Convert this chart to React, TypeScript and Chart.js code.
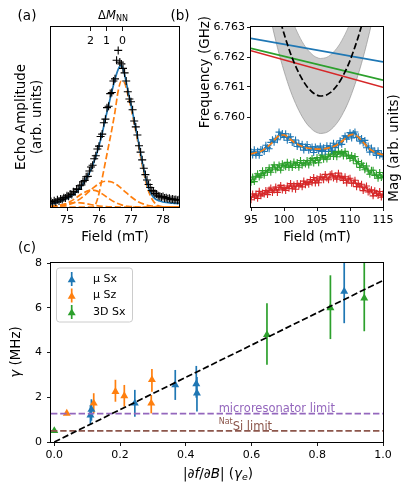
import React, { useEffect, useRef } from "react";
import { Chart, registerables } from "chart.js";
Chart.register(...registerables);

const FONT = '"DejaVu Sans", "Liberation Sans", sans-serif';
const C_BLUE = "#1f77b4";
const C_ORANGE = "#ff7f0e";
const C_GREEN = "#2ca02c";
const C_RED = "#d62728";
const C_PURPLE = "#9467bd";
const C_BROWN = "#8c564b";

// ---------------- Panel (a) ----------------
const A_X_TICKS = [75, 76, 77, 78];
const A_TOP_POS = [75.72, 76.22, 76.72];
const A_TOP_LABELS = ["2", "1", "0"];

const A_DATA_X = [
  74.5, 74.55, 74.6, 74.65, 74.7, 74.75, 74.8, 74.85, 74.9, 74.95,
  75.0, 75.05, 75.1, 75.15, 75.2, 75.25, 75.3, 75.35, 75.4, 75.45,
  75.5, 75.55, 75.6, 75.65, 75.7, 75.75, 75.8, 75.85, 75.9, 75.95,
  76.0, 76.05, 76.1, 76.15, 76.2, 76.25, 76.3, 76.35, 76.4, 76.45,
  76.5, 76.55, 76.6, 76.65, 76.7, 76.75, 76.8, 76.85, 76.9, 76.95,
  77.0, 77.05, 77.1, 77.15, 77.2, 77.25, 77.3, 77.35, 77.4, 77.45,
  77.5, 77.55, 77.6, 77.65, 77.7, 77.75, 77.8, 77.85, 77.9, 77.95,
  78.0, 78.05, 78.1, 78.15, 78.2, 78.25, 78.3, 78.35, 78.4, 78.45,
  78.5,
];
const A_DATA_Y = [
  0.030, 0.022, 0.035, 0.028, 0.040, 0.033, 0.045, 0.041, 0.052, 0.050,
  0.062, 0.060, 0.072, 0.070, 0.085, 0.083, 0.100, 0.098, 0.118, 0.122,
  0.140, 0.147, 0.168, 0.170, 0.200, 0.222, 0.232, 0.268, 0.285, 0.322,
  0.338, 0.392, 0.405, 0.468, 0.488, 0.552, 0.560, 0.630, 0.636, 0.700,
  0.712, 0.815, 0.870, 0.805, 0.795, 0.770, 0.745, 0.700, 0.640, 0.600,
  0.585, 0.540, 0.478, 0.445, 0.400, 0.340, 0.305, 0.262, 0.215, 0.180,
  0.150, 0.125, 0.108, 0.092, 0.085, 0.075, 0.072, 0.062, 0.060, 0.055,
  0.058, 0.050, 0.052, 0.046, 0.048, 0.042, 0.045, 0.040, 0.042, 0.038,
  0.040,
];

const A_FIT_X = [
  74.5, 74.6, 74.7, 74.8, 74.9, 75.0, 75.1, 75.2, 75.3, 75.4,
  75.5, 75.6, 75.7, 75.8, 75.9, 76.0, 76.1, 76.2, 76.3, 76.4,
  76.5, 76.6, 76.7, 76.8, 76.9, 77.0, 77.1, 77.2, 77.3, 77.4,
  77.5, 77.6, 77.7, 77.8, 77.9, 78.0, 78.1, 78.2, 78.3, 78.4,
  78.5,
];
const A_FIT_Y = [
  0.018, 0.021, 0.026, 0.032, 0.040, 0.048, 0.058, 0.070, 0.085, 0.105,
  0.128, 0.157, 0.190, 0.230, 0.280, 0.340, 0.410, 0.490, 0.565, 0.640,
  0.710, 0.765, 0.788, 0.735, 0.650, 0.568, 0.482, 0.392, 0.298, 0.208,
  0.132, 0.082, 0.055, 0.040, 0.033, 0.028, 0.025, 0.023, 0.021, 0.020,
  0.020,
];

// ΔM = 0 component
const A_C0_X = [74.5, 75.5, 75.8, 75.9, 76.0, 76.1, 76.2, 76.3, 76.4, 76.5, 76.6, 76.7, 76.8, 76.9, 77.0, 77.1, 77.2, 77.3, 77.4, 77.5, 77.6, 77.7, 77.8, 77.9, 78.0, 78.5];
const A_C0_Y = [0, 0, 0.0, 0.018, 0.075, 0.16, 0.25, 0.34, 0.43, 0.53, 0.645, 0.70, 0.69, 0.625, 0.55, 0.465, 0.375, 0.28, 0.19, 0.115, 0.065, 0.032, 0.013, 0.004, 0.001, 0];
// ΔM = 1 component
const A_C1_X = [74.5, 74.8, 75.0, 75.2, 75.4, 75.6, 75.8, 76.0, 76.2, 76.4, 76.6, 76.8, 77.0, 77.2, 77.4, 77.6, 77.8, 78.0, 78.5];
const A_C1_Y = [0.001, 0.0045, 0.011, 0.023, 0.044, 0.072, 0.103, 0.130, 0.143, 0.139, 0.118, 0.087, 0.057, 0.032, 0.016, 0.007, 0.003, 0.001, 0];
// ΔM = 2 component
const A_C2_X = [74.5, 74.7, 74.9, 75.1, 75.3, 75.5, 75.7, 75.8, 75.9, 76.1, 76.3, 76.5, 76.7, 76.9, 77.1, 77.3, 78.5];
const A_C2_Y = [0.0016, 0.005, 0.014, 0.030, 0.053, 0.077, 0.0925, 0.094, 0.091, 0.073, 0.048, 0.026, 0.0116, 0.004, 0.0013, 0, 0];
// ΔM = 3 component
const A_C3_X = [74.5, 74.7, 74.9, 75.1, 75.3, 75.5, 75.7, 75.9, 76.1, 76.3, 76.5, 76.7, 78.5];
const A_C3_Y = [0.0034, 0.008, 0.015, 0.022, 0.025, 0.022, 0.015, 0.008, 0.0034, 0.0011, 0.0003, 0, 0];

// ---------------- Panel (b) ----------------
const B_X_TICKS = [95, 100, 105, 110, 115];
const B_Y_TICKS = [6.76, 6.761, 6.762, 6.763];

const B_LINE_X = [95, 115];
const B_LINE_BLUE = [6.76262, 6.76184];
const B_LINE_GREEN = [6.76229, 6.76123];
const B_LINE_RED = [6.76221, 6.76099];

const B_PARA_X = [97, 97.5, 98, 98.5, 99, 99.5, 100, 100.5, 101, 101.5, 102, 102.5, 103, 103.5, 104, 104.5, 105, 105.5, 106, 106.5, 107, 107.5, 108, 108.5, 109, 109.5, 110, 110.5, 111, 111.5, 112, 112.5, 113, 113.5, 114, 114.5];
const B_PARA_C = [6.76554, 6.765, 6.7645, 6.76402, 6.76357, 6.76316, 6.76278, 6.76243, 6.76211, 6.76183, 6.76158, 6.76136, 6.76117, 6.76101, 6.76089, 6.76079, 6.76073, 6.7607, 6.76071, 6.76074, 6.76081, 6.76091, 6.76104, 6.7612, 6.7614, 6.76162, 6.76188, 6.76218, 6.7625, 6.76285, 6.76324, 6.76366, 6.76411, 6.76459, 6.76511, 6.76566];
const B_BAND_UP = [6.76679, 6.76625, 6.76575, 6.76527, 6.76482, 6.76441, 6.76403, 6.76368, 6.76336, 6.76308, 6.76283, 6.76261, 6.76242, 6.76226, 6.76214, 6.76204, 6.76198, 6.76195, 6.76196, 6.76199, 6.76206, 6.76216, 6.76229, 6.76245, 6.76265, 6.76287, 6.76313, 6.76343, 6.76375, 6.7641, 6.76449, 6.76491, 6.76536, 6.76584, 6.76636, 6.76691];
const B_BAND_LO = [6.76429, 6.76375, 6.76325, 6.76277, 6.76232, 6.76191, 6.76153, 6.76118, 6.76086, 6.76058, 6.76033, 6.76011, 6.75992, 6.75976, 6.75964, 6.75954, 6.75948, 6.75945, 6.75946, 6.75949, 6.75956, 6.75966, 6.75979, 6.75995, 6.76015, 6.76037, 6.76063, 6.76093, 6.76125, 6.7616, 6.76199, 6.76241, 6.76286, 6.76334, 6.76386, 6.76441];

const B_TRACE_X = [
  95, 95.25, 95.5, 95.75, 96, 96.25, 96.5, 96.75, 97, 97.25,
  97.5, 97.75, 98, 98.25, 98.5, 98.75, 99, 99.25, 99.5, 99.75,
  100, 100.25, 100.5, 100.75, 101, 101.25, 101.5, 101.75, 102, 102.25,
  102.5, 102.75, 103, 103.25, 103.5, 103.75, 104, 104.25, 104.5, 104.75,
  105, 105.25, 105.5, 105.75, 106, 106.25, 106.5, 106.75, 107, 107.25,
  107.5, 107.75, 108, 108.25, 108.5, 108.75, 109, 109.25, 109.5, 109.75,
  110, 110.25, 110.5, 110.75, 111, 111.25, 111.5, 111.75, 112, 112.25,
  112.5, 112.75, 113, 113.25, 113.5, 113.75, 114, 114.25, 114.5, 114.75,
  115,
];
const B_BLUE = [
  0.307, 0.289, 0.318, 0.287, 0.310, 0.287, 0.320, 0.318, 0.308, 0.343,
  0.329, 0.324, 0.359, 0.374, 0.360, 0.382, 0.374, 0.416, 0.396, 0.408,
  0.387, 0.407, 0.371, 0.389, 0.390, 0.358, 0.357, 0.372, 0.336, 0.353,
  0.333, 0.349, 0.316, 0.334, 0.347, 0.315, 0.323, 0.334, 0.303, 0.334,
  0.323, 0.314, 0.338, 0.309, 0.329, 0.309, 0.340, 0.323, 0.339, 0.315,
  0.354, 0.330, 0.348, 0.345, 0.368, 0.348, 0.379, 0.395, 0.376, 0.394,
  0.413, 0.384, 0.409, 0.417, 0.386, 0.390, 0.366, 0.380, 0.356, 0.370,
  0.329, 0.339, 0.305, 0.328, 0.307, 0.311, 0.287, 0.313, 0.288, 0.296,
  0.280,
];
const B_GREEN = [
  0.137, 0.166, 0.141, 0.171, 0.185, 0.166, 0.177, 0.202, 0.176, 0.203,
  0.193, 0.218, 0.193, 0.217, 0.234, 0.207, 0.218, 0.233, 0.205, 0.240,
  0.231, 0.223, 0.248, 0.220, 0.240, 0.220, 0.250, 0.232, 0.247, 0.221,
  0.258, 0.232, 0.246, 0.239, 0.258, 0.234, 0.259, 0.270, 0.245, 0.259,
  0.275, 0.246, 0.273, 0.288, 0.265, 0.279, 0.266, 0.293, 0.282, 0.309,
  0.281, 0.302, 0.279, 0.309, 0.295, 0.303, 0.283, 0.309, 0.283, 0.289,
  0.270, 0.286, 0.260, 0.280, 0.240, 0.253, 0.220, 0.243, 0.229, 0.207,
  0.228, 0.200, 0.182, 0.204, 0.204, 0.175, 0.182, 0.160, 0.192, 0.164,
  0.172,
];
const B_RED = [
  0.040, 0.072, 0.055, 0.072, 0.048, 0.087, 0.062, 0.078, 0.072, 0.092,
  0.069, 0.094, 0.105, 0.081, 0.094, 0.111, 0.081, 0.107, 0.120, 0.095,
  0.107, 0.092, 0.117, 0.104, 0.130, 0.101, 0.122, 0.099, 0.130, 0.117,
  0.129, 0.112, 0.144, 0.124, 0.138, 0.127, 0.152, 0.135, 0.164, 0.134,
  0.157, 0.135, 0.168, 0.163, 0.151, 0.181, 0.161, 0.151, 0.179, 0.185,
  0.161, 0.173, 0.154, 0.188, 0.162, 0.170, 0.147, 0.168, 0.134, 0.155,
  0.160, 0.132, 0.133, 0.149, 0.113, 0.131, 0.111, 0.126, 0.091, 0.107,
  0.117, 0.083, 0.088, 0.096, 0.062, 0.090, 0.076, 0.064, 0.086, 0.055,
  0.072,
];
const B_FIT_X = [
  95, 95.5, 96, 96.5, 97, 97.5, 98, 98.5, 99, 99.5,
  100, 100.5, 101, 101.5, 102, 102.5, 103, 103.5, 104, 104.5,
  105, 105.5, 106, 106.5, 107, 107.5, 108, 108.5, 109, 109.5,
  110, 110.5, 111, 111.5, 112, 112.5, 113, 113.5, 114, 114.5,
  115,
];
const B_FIT_Y = [
  0.295, 0.300, 0.305, 0.310, 0.320, 0.335, 0.350, 0.370, 0.390, 0.400,
  0.400, 0.390, 0.375, 0.360, 0.350, 0.340, 0.333, 0.328, 0.325, 0.323,
  0.322, 0.322, 0.323, 0.326, 0.330, 0.336, 0.345, 0.357, 0.372, 0.388,
  0.400, 0.404, 0.395, 0.380, 0.360, 0.340, 0.322, 0.310, 0.300, 0.295,
  0.290,
];

// ---------------- Panel (c) ----------------
const C_X_TICKS = [0, 0.2, 0.4, 0.6, 0.8, 1.0];
const C_Y_TICKS = [0, 2, 4, 6, 8];

const SX_X = [0.110, 0.113, 0.245, 0.368, 0.432, 0.434, 0.882];
const SX_Y = [1.20, 1.45, 1.73, 2.55, 2.60, 2.18, 6.73];
const SX_LO = [0.76, 0.95, 1.13, 1.88, 1.98, 1.36, 5.31];
const SX_HI = [1.65, 1.91, 2.33, 3.22, 3.40, 2.90, 8.07];

const SZ_X = [0.038, 0.120, 0.186, 0.213, 0.295, 0.297];
const SZ_Y = [1.28, 1.73, 2.25, 2.06, 1.73, 2.78];
const SZ_LO = [1.20, 1.28, 1.80, 1.58, 1.28, 2.25];
const SZ_HI = [1.36, 2.18, 2.78, 2.55, 2.10, 3.26];

const D3_X = [0.0, 0.647, 0.840, 0.943];
const D3_Y = [0.50, 4.79, 5.99, 6.43];
const D3_LO = [0.45, 3.45, 4.60, 4.95];
const D3_HI = [0.55, 6.20, 7.45, 8.00];

const FIT_X = [0, 1.0];
const FIT_Y = [0, 7.22];
const LIMIT_X = [-0.01, 1.0];
const MICRO_LIMIT = 1.27;
const NATSI_LIMIT = 0.5;

const LEGEND = [
  { label: "\u03bc Sx", color: C_BLUE },
  { label: "\u03bc Sz", color: C_ORANGE },
  { label: "3D Sx", color: C_GREEN },
];

// ---------------- helpers ----------------
const pts = (xs: number[], ys: number[]) => xs.map((x, i) => ({ x, y: ys[i] }));
const DASH = [6.4, 2.8];

type Run = { t: string; it?: boolean; sub?: boolean; sup?: boolean };
function richText(ctx: any, runs: Run[], cx: number, cy: number, size: number, color: string, rot = false) {
  ctx.save();
  ctx.translate(cx, cy);
  if (rot) ctx.rotate(-Math.PI / 2);
  const fontFor = (r: Run) => `${r.it ? "italic " : ""}${r.sub || r.sup ? size * 0.7 : size}px ${FONT}`;
  let total = 0;
  for (const r of runs) {
    ctx.font = fontFor(r);
    total += ctx.measureText(r.t).width;
  }
  let x = -total / 2;
  ctx.textBaseline = "middle";
  ctx.textAlign = "left";
  ctx.fillStyle = color;
  for (const r of runs) {
    ctx.font = fontFor(r);
    const dy = r.sub ? size * 0.28 : r.sup ? -size * 0.35 : 0;
    ctx.fillText(r.t, x, dy);
    x += ctx.measureText(r.t).width;
  }
  ctx.restore();
}

function frame(ctx: any, a: any) {
  ctx.save();
  ctx.strokeStyle = "#000";
  ctx.lineWidth = 1;
  ctx.strokeRect(Math.round(a.left) - 0.5, Math.round(a.top) - 0.5, Math.round(a.right - a.left) + 1, Math.round(a.bottom - a.top) + 1);
  ctx.restore();
}

const tickGrid = {
  display: true,
  drawOnChartArea: false,
  drawTicks: true,
  tickLength: 4,
  tickWidth: 0.9,
  tickColor: "#000",
  color: "#000",
  lineWidth: 0.9,
};
const tickFont = { family: FONT, size: 11 };
const noAxis = { display: false };

const baseOptions = (padding: any) => ({
  animation: false,
  responsive: false,
  maintainAspectRatio: false,
  events: [],
  layout: { padding, autoPadding: false },
  plugins: { legend: { display: false }, tooltip: { enabled: false } },
});

function line(data: any, color: string, width: number, extra: any = {}) {
  return {
    data,
    borderColor: color,
    backgroundColor: color,
    borderWidth: width,
    pointRadius: 0,
    fill: false,
    showLine: true,
    ...extra,
  };
}

function makeA(cv: HTMLCanvasElement) {
  const comps = [
    [A_C0_X, A_C0_Y],
    [A_C1_X, A_C1_Y],
    [A_C2_X, A_C2_Y],
    [A_C3_X, A_C3_Y],
  ].map(([xs, ys], i) =>
    line(pts(xs, ys), C_ORANGE, 1.7, { borderDash: DASH, cubicInterpolationMode: "monotone", order: 2 + i })
  );
  return new Chart(cv, {
    type: "line",
    data: {
      datasets: [
        {
          data: pts(A_DATA_X, A_DATA_Y),
          showLine: false,
          pointStyle: "cross",
          pointRadius: 4,
          pointBorderWidth: 1.1,
          borderColor: "#000",
          backgroundColor: "#000",
          order: 0,
        },
        line(pts(A_FIT_X, A_FIT_Y), C_BLUE, 1.7, { cubicInterpolationMode: "monotone", order: 1 }),
        ...comps,
      ],
    },
    options: {
      ...baseOptions({ top: 27, right: 21, left: 0, bottom: 0 }),
      scales: {
        x: {
          type: "linear",
          min: 74.5,
          max: 78.5,
          offset: false,
          afterBuildTicks: (s: any) => {
            s.ticks = A_X_TICKS.map((v) => ({ value: v }));
          },
          ticks: { font: tickFont, color: "#000", padding: 3, maxRotation: 0, autoSkip: false, callback: (v: any) => String(v) },
          grid: tickGrid,
          border: noAxis,
          afterFit: (s: any) => {
            s.height = 43;
          },
        },
        y: {
          type: "linear",
          min: 0,
          max: 1,
          ticks: { display: false },
          grid: { display: false },
          border: noAxis,
          afterFit: (s: any) => {
            s.width = 51;
          },
        },
      },
    } as any,
    plugins: [
      {
        id: "decorA",
        afterDraw(chart: any) {
          const { ctx, chartArea: a, scales } = chart;
          frame(ctx, a);
          ctx.save();
          ctx.strokeStyle = "#000";
          ctx.lineWidth = 0.9;
          ctx.fillStyle = "#000";
          ctx.font = `11px ${FONT}`;
          ctx.textAlign = "center";
          ctx.textBaseline = "middle";
          A_TOP_POS.forEach((v, i) => {
            const px = Math.round(scales.x.getPixelForValue(v)) + 0.5;
            ctx.beginPath();
            ctx.moveTo(px, a.top);
            ctx.lineTo(px, a.top + 4);
            ctx.stroke();
            ctx.fillText(A_TOP_LABELS[i], px, a.top + 14);
          });
          ctx.restore();
          richText(ctx, [{ t: "\u0394" }, { t: "M", it: true }, { t: "NN", sub: true }], 113, 16, 11.5, "#000");
          richText(ctx, [{ t: "(a)" }], 27, 16, 13.5, "#000");
          richText(ctx, [{ t: "Echo Amplitude" }], 21, 117, 13.5, "#000", true);
          richText(ctx, [{ t: "(arb. units)" }], 37, 117, 13.5, "#000", true);
          richText(ctx, [{ t: "Field (mT)" }], 115, 237, 13.5, "#000");
        },
      },
    ],
  });
}

function makeB(cv: HTMLCanvasElement) {
  const trace = (ys: number[], color: string, order: number) => ({
    data: pts(B_TRACE_X, ys),
    yAxisID: "ym",
    borderColor: color,
    backgroundColor: color,
    borderWidth: 1.2,
    showLine: true,
    fill: false,
    pointStyle: "cross",
    pointRadius: 3.5,
    pointBorderWidth: 1.1,
    order,
  });
  return new Chart(cv, {
    type: "line",
    data: {
      datasets: [
        line(pts(B_FIT_X, B_FIT_Y), C_ORANGE, 1.7, { yAxisID: "ym", borderDash: DASH, cubicInterpolationMode: "monotone", order: 0 }),
        trace(B_BLUE, C_BLUE, 1),
        trace(B_GREEN, C_GREEN, 2),
        trace(B_RED, C_RED, 3),
        line(pts(B_PARA_X, B_PARA_C), "#000", 1.7, { yAxisID: "yf", borderDash: DASH, cubicInterpolationMode: "monotone", order: 4 }),
        line(pts(B_LINE_X, B_LINE_BLUE), C_BLUE, 1.7, { yAxisID: "yf", order: 5 }),
        line(pts(B_LINE_X, B_LINE_GREEN), C_GREEN, 1.7, { yAxisID: "yf", order: 6 }),
        line(pts(B_LINE_X, B_LINE_RED), C_RED, 1.7, { yAxisID: "yf", order: 7 }),
        line(pts(B_PARA_X, B_BAND_UP), "#a6a6a6", 0.8, {
          yAxisID: "yf",
          cubicInterpolationMode: "monotone",
          fill: "+1",
          backgroundColor: "rgba(128,128,128,0.4)",
          order: 8,
        }),
        line(pts(B_PARA_X, B_BAND_LO), "#a6a6a6", 0.8, { yAxisID: "yf", cubicInterpolationMode: "monotone", order: 9 }),
      ],
    },
    options: {
      ...baseOptions({ top: 27, right: 0, left: 0, bottom: 0 }),
      scales: {
        x: {
          type: "linear",
          min: 95,
          max: 115,
          offset: false,
          afterBuildTicks: (s: any) => {
            s.ticks = B_X_TICKS.map((v) => ({ value: v }));
          },
          ticks: { font: tickFont, color: "#000", padding: 3, maxRotation: 0, autoSkip: false, callback: (v: any) => String(v) },
          grid: tickGrid,
          border: noAxis,
          afterFit: (s: any) => {
            s.height = 43;
          },
        },
        yf: {
          type: "linear",
          position: "left",
          min: 6.757,
          max: 6.763,
          afterBuildTicks: (s: any) => {
            s.ticks = B_Y_TICKS.map((v) => ({ value: v }));
          },
          ticks: { font: tickFont, color: "#000", padding: 2, autoSkip: false, callback: (v: any) => Number(v).toFixed(3) },
          grid: tickGrid,
          border: noAxis,
          afterFit: (s: any) => {
            s.width = 91;
          },
        },
        ym: {
          type: "linear",
          position: "right",
          min: 0,
          max: 1,
          ticks: { display: false },
          grid: { display: false },
          border: noAxis,
          afterFit: (s: any) => {
            s.width = 32;
          },
        },
      },
    } as any,
    plugins: [
      {
        id: "decorB",
        afterDraw(chart: any) {
          const { ctx, chartArea: a } = chart;
          frame(ctx, a);
          richText(ctx, [{ t: "(b)" }], 20, 16, 13.5, "#000");
          richText(ctx, [{ t: "Frequency (GHz)" }], 45, 72, 13.5, "#000", true);
          richText(ctx, [{ t: "Mag (arb. units)" }], 234, 148, 13.5, "#000", true);
          richText(ctx, [{ t: "Field (mT)" }], 157, 237, 13.5, "#000");
        },
      },
    ],
  });
}

const SERIES = [
  { xs: SX_X, ys: SX_Y, lo: SX_LO, hi: SX_HI, color: C_BLUE },
  { xs: SZ_X, ys: SZ_Y, lo: SZ_LO, hi: SZ_HI, color: C_ORANGE },
  { xs: D3_X, ys: D3_Y, lo: D3_LO, hi: D3_HI, color: C_GREEN },
];

function tri(ctx: any, cx: number, cy: number, r: number, color: string) {
  const c = Math.cos(Math.PI / 6) * r;
  ctx.beginPath();
  ctx.moveTo(cx, cy - r);
  ctx.lineTo(cx + c, cy + r / 2);
  ctx.lineTo(cx - c, cy + r / 2);
  ctx.closePath();
  ctx.fillStyle = color;
  ctx.fill();
}

function makeC(cv: HTMLCanvasElement) {
  const scatter = SERIES.map((s, i) => ({
    data: pts(s.xs, s.ys),
    showLine: false,
    pointStyle: "triangle",
    pointRadius: 4.6,
    pointBorderWidth: 0,
    borderColor: s.color,
    backgroundColor: s.color,
    clip: false,
    order: 3 + i,
  }));
  return new Chart(cv, {
    type: "line",
    data: {
      datasets: [
        line(pts(FIT_X, FIT_Y), "#000", 1.7, { borderDash: DASH, order: 0 }),
        line(pts(LIMIT_X, [MICRO_LIMIT, MICRO_LIMIT]), C_PURPLE, 1.7, { borderDash: DASH, order: 1 }),
        line(pts(LIMIT_X, [NATSI_LIMIT, NATSI_LIMIT]), C_BROWN, 1.7, { borderDash: DASH, order: 2 }),
        ...scatter,
      ],
    },
    options: {
      ...baseOptions({ top: 23, right: 32, left: 0, bottom: 0 }),
      scales: {
        x: {
          type: "linear",
          min: -0.01,
          max: 1.0,
          offset: false,
          afterBuildTicks: (s: any) => {
            s.ticks = C_X_TICKS.map((v) => ({ value: v }));
          },
          ticks: { font: tickFont, color: "#000", padding: 3, maxRotation: 0, autoSkip: false, callback: (v: any) => Number(v).toFixed(1) },
          grid: tickGrid,
          border: noAxis,
          afterFit: (s: any) => {
            s.height = 55;
          },
        },
        y: {
          type: "linear",
          min: 0,
          max: 8,
          afterBuildTicks: (s: any) => {
            s.ticks = C_Y_TICKS.map((v) => ({ value: v }));
          },
          ticks: { font: tickFont, color: "#000", padding: 5, autoSkip: false, callback: (v: any) => String(v) },
          grid: tickGrid,
          border: noAxis,
          afterFit: (s: any) => {
            s.width = 51;
          },
        },
      },
    } as any,
    plugins: [
      {
        id: "errbars",
        beforeDatasetsDraw(chart: any) {
          const { ctx, chartArea: a, scales } = chart;
          ctx.save();
          ctx.beginPath();
          ctx.rect(a.left, a.top, a.right - a.left, a.bottom - a.top);
          ctx.clip();
          ctx.lineWidth = 1.7;
          for (const s of SERIES) {
            ctx.strokeStyle = s.color;
            s.xs.forEach((xv, i) => {
              const px = scales.x.getPixelForValue(xv);
              ctx.beginPath();
              ctx.moveTo(px, scales.y.getPixelForValue(s.lo[i]));
              ctx.lineTo(px, scales.y.getPixelForValue(s.hi[i]));
              ctx.stroke();
            });
          }
          ctx.restore();
        },
      },
      {
        id: "decorC",
        afterDraw(chart: any) {
          const { ctx, chartArea: a, scales } = chart;
          frame(ctx, a);
          // annotations
          ctx.save();
          ctx.textAlign = "left";
          ctx.textBaseline = "alphabetic";
          const tx = scales.x.getPixelForValue(0.5);
          ctx.fillStyle = C_PURPLE;
          ctx.font = `11.5px ${FONT}`;
          ctx.fillText("microresonator limit", tx, scales.y.getPixelForValue(1.34));
          ctx.fillStyle = C_BROWN;
          ctx.font = `8px ${FONT}`;
          const by = scales.y.getPixelForValue(0.53);
          ctx.fillText("Nat", tx, by - 6);
          const nw = ctx.measureText("Nat").width;
          ctx.font = `11.5px ${FONT}`;
          ctx.fillText("Si limit", tx + nw, by);
          ctx.restore();
          // legend
          ctx.save();
          const lx = 56.5, ly = 28, lw = 76, lh = 54, rr = 3;
          ctx.beginPath();
          ctx.moveTo(lx + rr, ly);
          ctx.lineTo(lx + lw - rr, ly);
          ctx.quadraticCurveTo(lx + lw, ly, lx + lw, ly + rr);
          ctx.lineTo(lx + lw, ly + lh - rr);
          ctx.quadraticCurveTo(lx + lw, ly + lh, lx + lw - rr, ly + lh);
          ctx.lineTo(lx + rr, ly + lh);
          ctx.quadraticCurveTo(lx, ly + lh, lx, ly + lh - rr);
          ctx.lineTo(lx, ly + rr);
          ctx.quadraticCurveTo(lx, ly, lx + rr, ly);
          ctx.closePath();
          ctx.fillStyle = "rgba(255,255,255,0.8)";
          ctx.fill();
          ctx.strokeStyle = "#cccccc";
          ctx.lineWidth = 1;
          ctx.stroke();
          const rows = [39, 55.5, 72];
          LEGEND.forEach((e, i) => {
            const cy = rows[i];
            ctx.strokeStyle = e.color;
            ctx.lineWidth = 1.7;
            ctx.beginPath();
            ctx.moveTo(71.7, cy - 7);
            ctx.lineTo(71.7, cy + 7);
            ctx.stroke();
            tri(ctx, 71.7, cy + 1, 4.6, e.color);
            ctx.fillStyle = "#000";
            ctx.font = `11px ${FONT}`;
            ctx.textAlign = "left";
            ctx.textBaseline = "middle";
            ctx.fillText(e.label, 93, cy);
          });
          ctx.restore();
          richText(ctx, [{ t: "(c)" }], 27, 8, 13.5, "#000");
          richText(ctx, [{ t: "\u03b3", it: true }, { t: " (MHz)" }], 16, 112, 13.5, "#000", true);
          richText(
            ctx,
            [
              { t: "|" },
              { t: "\u2202f", it: true },
              { t: "/" },
              { t: "\u2202B", it: true },
              { t: "| (" },
              { t: "\u03b3", it: true },
              { t: "e", it: true, sub: true },
              { t: ")" },
            ],
            218,
            234,
            13.5,
            "#000"
          );
        },
      },
    ],
  });
}

export default function App() {
  const refA = useRef<HTMLCanvasElement>(null);
  const refB = useRef<HTMLCanvasElement>(null);
  const refC = useRef<HTMLCanvasElement>(null);
  useEffect(() => {
    const charts = [makeA(refA.current!), makeB(refB.current!), makeC(refC.current!)];
    return () => charts.forEach((c) => c.destroy());
  }, []);
  return (
    <div style={{ position: "absolute", left: 0, top: 0, width: 415, height: 497, background: "#fff", overflow: "hidden" }}>
      <canvas ref={refA} width={200} height={250} style={{ position: "absolute", left: 0, top: 0, width: 200, height: 250 }} />
      <canvas ref={refB} width={255} height={250} style={{ position: "absolute", left: 160, top: 0, width: 255, height: 250 }} />
      <canvas ref={refC} width={415} height={257} style={{ position: "absolute", left: 0, top: 240, width: 415, height: 257 }} />
    </div>
  );
}
